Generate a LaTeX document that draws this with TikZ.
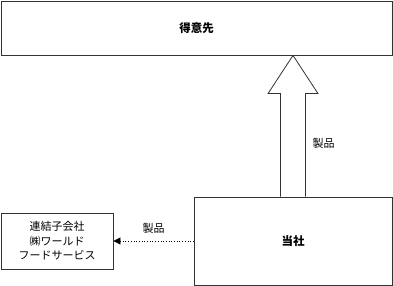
\documentclass[tikz,border=0pt]{standalone}
\usepackage{fontspec}
\setmainfont{Noto Sans CJK JP}
\usepackage{tikz}
\usetikzlibrary{calc,arrows.meta}

\begin{document}
\begin{tikzpicture}[x=1pt,y=-1pt,>={Triangle[length=7pt,width=7pt]},
        box/.style={draw=black!80, line width=0.8pt, rectangle, inner sep=0pt, align=center},
        lbl/.style={font=\fontsize{11}{14.5}\selectfont}]
        \useasboundingbox (0,0) rectangle (393,286);
        \node (tokui) [box, minimum width=391pt, minimum height=54pt, font=\fontsize{11.5}{14}\selectfont\bfseries] at (196.5,28) {得意先};
        \node (tousha) [box, minimum width=198pt, minimum height=88pt, font=\fontsize{11.5}{14}\selectfont\bfseries] at (293,241) {当社};
        \node (renketsu) [box, minimum width=112pt, minimum height=56pt, lbl] at (57,241) {連結子会社\\㈱ワールド\\フードサービス};
        
        % big arrow up to tokui
        \draw[draw=black!80, line width=0.8pt, fill=white] ($(tousha.north)+(-12.5,0)$) -- ++(0,-103) -- ++(-12.5,0)
            -- (tokui.south -| tousha.north) -- ($(tousha.north)+(25,-103)$) -- ++(-12.5,0) -- ($(tousha.north)+(12.5,0)$);
        \node (seihinA) [lbl, anchor=west] at (309,143) {製品};
        
        \draw[->, dotted, line width=0.7pt] (tousha) -- (renketsu) node (seihinB) [lbl, midway, above=4pt] {製品};
    \end{tikzpicture}
\end{document}
